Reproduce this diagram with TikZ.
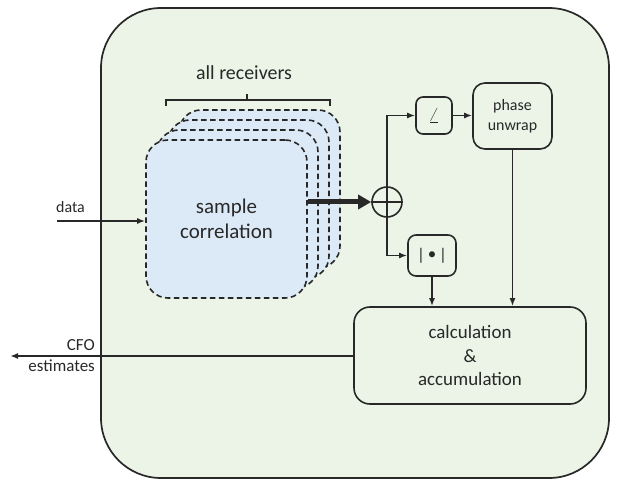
\documentclass[tikz,border=0pt]{standalone}
\usepackage{fontspec}
\setmainfont{Carlito}
\usepackage{tikz}
\usetikzlibrary{positioning,arrows.meta}
\definecolor{panelgreen}{RGB}{235,244,230}
\definecolor{stackblue}{RGB}{220,233,246}
\definecolor{inkgray}{RGB}{40,40,40}

\begin{document}
\begin{tikzpicture}[x=1bp, y=-1bp,
        box/.style={rectangle, draw=inkgray, line width=1.6bp,
                    rounded corners=10bp, fill=panelgreen, align=center,
                    text=inkgray, inner sep=0pt},
        stackbox/.style={rectangle, draw=inkgray, line width=1.6bp,
                    dash pattern=on 5.5bp off 3.5bp, rounded corners=22bp,
                    fill=stackblue, minimum width=161bp, minimum height=158bp,
                    align=center, text=inkgray, inner sep=0pt},
        arrow/.style={-{Latex[length=8bp, width=6bp]}, line width=1.6bp,
                    draw=inkgray},
        lbl/.style={text=inkgray, inner sep=0pt, align=center}]

        \useasboundingbox (0,0) rectangle (619,483);

        % outer panel
        \draw[draw=inkgray, line width=1.7bp, fill=panelgreen,
              rounded corners=60bp] (101,8) rectangle (609,478);

        % stacked receivers (back to front)
        \foreach \k in {3,2,1}
            \draw[stackbox] ({146+11*\k},{140-10*\k}) rectangle ++(161,158);
        \node[stackbox, font=\fontsize{21}{25}\selectfont] (corr) at (226.5,219)
            {sample\\correlation};

        % all receivers bracket
        \node[lbl, font=\fontsize{20}{24}\selectfont] (allrx) at (244,73) {all receivers};
        \draw[draw=inkgray, line width=1.4bp]
            (166,106) -- (166,100) -- (330,100) -- (330,106)
            (247,100) -- (247,94);

        % combiner
        \node[circle, draw=inkgray, line width=1.6bp, minimum size=30bp,
              inner sep=0pt] (sum) at (387,202) {};
        \draw[draw=inkgray, line width=1.6bp] (sum.west) -- (sum.east);

        % angle and magnitude
        \node[box, rounded corners=7bp, minimum width=36bp, minimum height=37bp,
              font=\fontsize{20}{20}\selectfont] (ang) at (434,115.5) {$\angle$};
        \node[box, rounded corners=8bp, minimum width=48bp, minimum height=41bp,
              font=\fontsize{17}{20}\selectfont] (mag) at (432,255.5) {|\,\raisebox{0.5pt}{•}\,|};

        % phase unwrap
        \node[box, rounded corners=12bp, minimum width=79bp, minimum height=66bp,
              font=\fontsize{16}{20}\selectfont] (unwrap) at (512.5,116) {phase\\unwrap};

        % calculation & accumulation
        \node[box, rounded corners=16bp, minimum width=232bp, minimum height=97bp,
              font=\fontsize{19}{23.5}\selectfont] (calc) at (470,355.5)
            {calculation\\\&\\accumulation};

        % input / output ends
        \coordinate (datain) at (57,221);
        \coordinate (cfoout) at (10,356);

        % data -> sample correlation
        \draw[arrow] (datain) -- (datain -| corr.west);
        \node[lbl, font=\fontsize{16}{19}\selectfont, anchor=south west]
            (datalbl) at (56,213) {data};

        % sample correlation -> combiner
        \draw[line width=5bp, draw=inkgray,
              -{Triangle[length=13bp, width=14bp]}]
            (corr.east |- sum.west) -- (sum.west);

        % combiner -> angle -> phase unwrap
        \draw[arrow] (sum.center) |- (ang.west);
        \draw[arrow] (ang.east) -- (ang.east -| unwrap.west);

        % combiner -> magnitude
        \draw[arrow] (sum.center) |- (mag.west);

        % into calculation
        \draw[arrow] (mag.south) -- (mag.south |- calc.north);
        \draw[arrow] (unwrap.south) -- (unwrap.south |- calc.north);

        % calculation -> CFO estimates
        \draw[arrow] (calc.west |- cfoout) -- (cfoout);
        \node[lbl, font=\fontsize{17}{20}\selectfont, anchor=south east]
            (cfolbl) at (95,351) {CFO};
        \node[lbl, font=\fontsize{17}{20}\selectfont, anchor=north east]
            (estlbl) at (95,360) {estimates};

    \end{tikzpicture}
\end{document}
